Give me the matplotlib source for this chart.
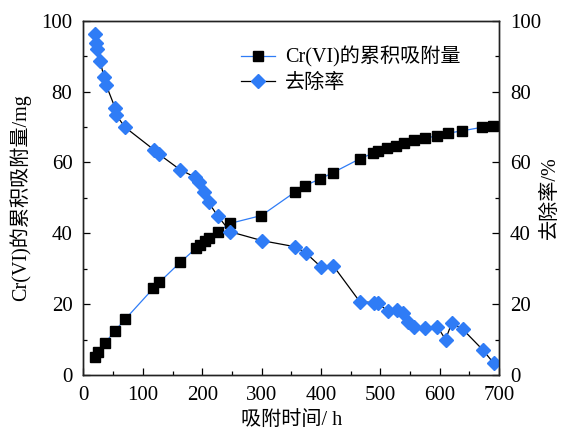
import matplotlib
matplotlib.use("Agg")
import matplotlib.pyplot as plt
from matplotlib.ticker import MultipleLocator

plt.rcParams['font.family'] = ['Liberation Serif', 'Noto Sans CJK SC', 'DejaVu Sans']
plt.rcParams['axes.unicode_minus'] = False

# Cumulative adsorption of Cr(VI) (mg)
t_ads = [19.4, 25.0, 36.3, 53.2, 70.1, 117.9, 127.5, 163.0, 190.0, 196.8, 205.2, 210.8,
         226.0, 247.5, 299.8, 356.1, 372.5, 398.3, 420.3, 465.4, 487.8, 496.3, 511.0,
         526.2, 540.2, 557.1, 575.2, 595.4, 613.5, 637.7, 671.5, 689.5]
q_ads = [5.2, 6.6, 9.0, 12.5, 15.7, 24.5, 26.1, 31.8, 35.8, 36.7, 37.9, 38.6,
         40.4, 42.8, 45.0, 51.6, 53.4, 55.3, 57.1, 61.0, 62.6, 63.3, 64.0,
         64.7, 65.6, 66.3, 66.8, 67.5, 68.2, 68.9, 69.9, 70.3]

# Removal rate (%)
t_rem = [19.4, 21.1, 23.3, 27.9, 34.6, 38.0, 53.2, 54.9, 70.1, 119.1, 126.4, 163.0,
         188.3, 193.9, 203.5, 210.8, 226.0, 247.5, 301.0, 356.1, 374.2, 399.5, 420.9,
         465.4, 489.5, 496.3, 512.2, 529.0, 537.5, 546.0, 556.0, 576.0, 596.4, 609.9,
         620.3, 638.9, 672.6, 691.2]
r_rem = [96.1, 93.8, 91.9, 88.7, 84.0, 81.9, 75.4, 73.4, 69.9, 63.5, 62.4, 57.9,
         55.8, 54.6, 51.7, 48.7, 44.9, 40.4, 37.9, 36.2, 34.5, 30.6, 30.8,
         20.7, 20.4, 20.2, 18.1, 18.3, 17.4, 15.0, 13.6, 13.2, 13.6, 10.0,
         14.6, 12.9, 7.1, 3.3]

label_ads = 'Cr(VI)的累积吸附量'
label_rem = '去除率'
xlabel = '吸附时间/ h'
ylabel_left = 'Cr(VI)的累积吸附量/mg'
ylabel_right = '去除率/%'

blue = '#2f7cf6'
fs_tick = 15
fs_lab = 14.5

fig = plt.figure(figsize=(5.63, 4.30), dpi=100)
ax = fig.add_axes([0.1483, 0.128, 0.7380, 0.824])

ax.plot(t_ads, q_ads, color=blue, lw=0.9, marker='s', ms=7,
        mfc='black', mec='black', label=label_ads, zorder=3)
ax.plot(t_rem, r_rem, color='black', lw=0.9, marker='D', ms=7,
        mfc=blue, mec=blue, label=label_rem, zorder=4)

ax.set_xlim(0, 700)
ax.set_ylim(0, 100)
ax.xaxis.set_major_locator(MultipleLocator(100))
ax.xaxis.set_minor_locator(MultipleLocator(50))
ax.yaxis.set_major_locator(MultipleLocator(20))
ax.yaxis.set_minor_locator(MultipleLocator(10))
ax.tick_params(which='both', direction='in', top=False, right=False, labelsize=fs_tick)
ax.tick_params(which='major', length=5, width=0.9)
ax.tick_params(which='minor', length=3, width=0.9)
ax.tick_params(axis='x', which='major', pad=8)
ax.tick_params(axis='y', which='major', pad=8)
ax.set_xlabel(xlabel, fontsize=fs_lab, labelpad=4)
ax.set_ylabel(ylabel_left, fontsize=fs_lab, labelpad=7)

ax2 = ax.twinx()
ax2.set_ylim(0, 100)
ax2.yaxis.set_major_locator(MultipleLocator(20))
ax2.yaxis.set_minor_locator(MultipleLocator(10))
ax2.tick_params(which='both', direction='in', labelsize=fs_tick)
ax2.tick_params(which='major', length=5, width=0.9, pad=8)
ax2.tick_params(which='minor', length=3, width=0.9)
ax2.set_ylabel(ylabel_right, fontsize=fs_lab, labelpad=0)

for a in (ax, ax2):
    for s in a.spines.values():
        s.set_linewidth(1.0)
        s.set_color('#222222')

leg = ax.legend(loc='upper left', bbox_to_anchor=(0.36, 0.95), frameon=False,
                fontsize=fs_lab, handlelength=1.7, handletextpad=0.5,
                labelspacing=0.3, borderaxespad=0)

fig.savefig('out.png', dpi=100)
